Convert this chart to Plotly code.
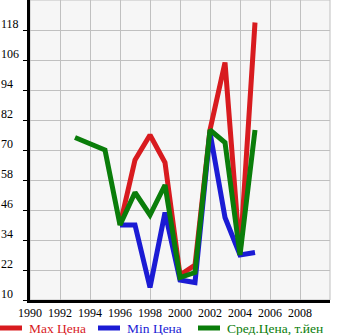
import plotly.graph_objects as go

# Price history by model year
years = list(range(1993, 2006))
max_price = [None, None, None, 40, 66, 76, 65, 20, 24, 78, 105, 28, 121]
min_price = [None, None, None, 40, 40, 15, 45, 18, 17, 77, 43, 28, 29]
avg_price = [75, None, 70, 40, 53, 44, 56, 19, 21, 78, 73, 28, 78]

x_ticks = list(range(1990, 2010, 2))
y_ticks = [10, 22, 34, 46, 58, 70, 82, 94, 106, 118]

RED = "#d81b1f"
BLUE = "#1b1bd4"
GREEN = "#0a7d0a"
FONT = "Liberation Serif, Times New Roman, serif"

# plot area in pixels, used to place the hand-made legend
L, R, T, B, W, H = 30, 15, 0, 35, 345, 335
PW, PH = W - L - R, H - T - B

def px_x(px):
    return (px - L) / PW

def px_y(py):
    return (H - B - py) / PH

series = [
    ("Max Цена", max_price, RED, 0),
    ("Min Цена", min_price, BLUE, 98),
    ("Сред.Цена, т.йен", avg_price, GREEN, 198),
]

fig = go.Figure()
for name, vals, color, _ in series:
    fig.add_trace(go.Scatter(
        x=years, y=vals, mode="lines", connectgaps=True,
        line=dict(color=color, width=5), name=name, showlegend=False,
    ))

# legend row under the axis: a short swatch followed by coloured text
LEG_Y = 328
for name, _, color, x0 in series:
    fig.add_shape(type="line", xref="paper", yref="paper",
                  x0=px_x(x0), x1=px_x(x0 + 22), y0=px_y(LEG_Y), y1=px_y(LEG_Y),
                  line=dict(color=color, width=5))
    fig.add_annotation(x=px_x(x0 + 27), xref="paper", xanchor="left",
                       y=px_y(LEG_Y), yref="paper", yanchor="middle",
                       text=name, showarrow=False,
                       font=dict(family=FONT, size=13.5, color=color))

# y tick labels sit left-aligned above their gridlines
for v in y_ticks:
    fig.add_annotation(
        x=0, xref="paper", xanchor="left", xshift=-31,
        y=v, yref="y", yanchor="bottom", yshift=-3,
        text=str(v), showarrow=False,
        font=dict(family=FONT, size=12, color="black"),
    )

# light border around the plot area
fig.add_shape(type="rect", xref="paper", yref="paper", x0=0, y0=0, x1=1, y1=1,
              line=dict(color="#c0c0c0", width=1), layer="below")

fig.update_layout(
    width=W, height=H,
    margin=dict(l=L, r=R, t=T, b=B, autoexpand=False),
    paper_bgcolor="white", plot_bgcolor="#f6f6f6",
    font=dict(family=FONT, size=12, color="black"),
    showlegend=False,
    xaxis=dict(range=[1990, 2010], tickvals=x_ticks, showgrid=True,
               gridcolor="#c0c0c0", gridwidth=1, showline=True,
               linecolor="black", linewidth=3, ticks="", zeroline=False,
               tickfont=dict(family=FONT, size=12)),
    yaxis=dict(range=[10, 130], tickvals=y_ticks, showticklabels=False,
               showgrid=True, gridcolor="#c0c0c0", gridwidth=1,
               showline=True, linecolor="black", linewidth=3,
               ticks="outside", ticklen=4, tickcolor="black", tickwidth=1,
               zeroline=False),
)

fig.write_html("out.html")
